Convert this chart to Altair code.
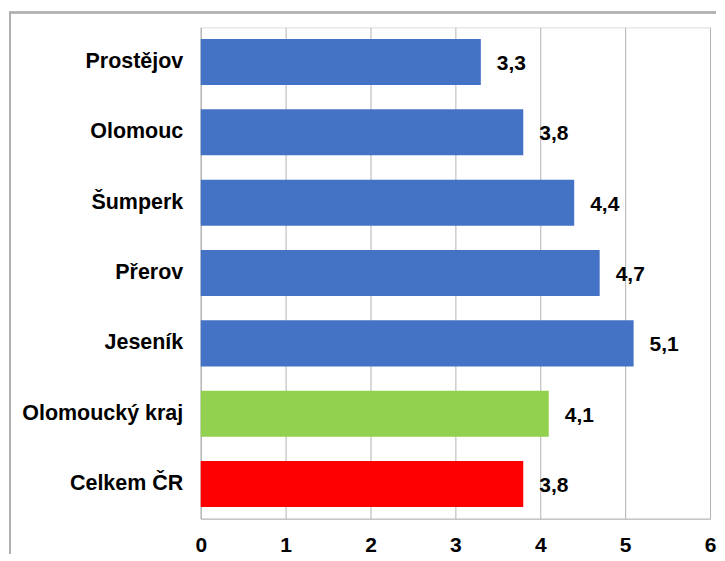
import altair as alt
import pandas as pd

regions = ["Prostějov", "Olomouc", "Šumperk", "Přerov", "Jeseník", "Olomoucký kraj", "Celkem ČR"]
values = [3.3, 3.8, 4.4, 4.7, 5.1, 4.1, 3.8]
colors = ["#4472C4", "#4472C4", "#4472C4", "#4472C4", "#4472C4", "#92D050", "#FF0000"]
x_ticks = [0, 1, 2, 3, 4, 5, 6]

df = pd.DataFrame({"region": regions, "value": values, "color": colors})

FONT = "Liberation Sans"
GRID = "#b3b3b3"

y_enc = alt.Y("region:N", sort=regions,
              scale=alt.Scale(paddingInner=0.345, paddingOuter=0.165),
              axis=alt.Axis(title=None, labelFont=FONT, labelFontSize=21.5, labelFontWeight="bold",
                            labelColor="black", labelPadding=18, ticks=False,
                            domainColor=GRID, labelLimit=300))
x_enc = alt.X("value:Q", scale=alt.Scale(domain=[0, 6], nice=False),
              axis=alt.Axis(title=None, values=x_ticks, labelFont=FONT, labelFontSize=21,
                            labelFontWeight="bold", labelColor="black", labelPadding=16,
                            labelFlush=False, ticks=False, grid=True, gridColor=GRID,
                            domainColor=GRID, format="d"))

bars = alt.Chart(df).mark_bar().encode(
    y=y_enc, x=x_enc,
    color=alt.Color("color:N", scale=None),
)

labels = alt.Chart(df).transform_calculate(
    label="replace(format(datum.value, '.1f'), '.', ',')"
).mark_text(align="left", baseline="middle", dx=16, dy=2, font=FONT, fontSize=21,
            fontWeight="bold", color="black").encode(
    y=alt.Y("region:N", sort=regions), x="value:Q", text="label:N"
)

# decorative outer frame (top and left edges)
frame_top = alt.Chart(df).mark_rule(color="#b0b0b0", strokeWidth=1.5).encode(
    x=alt.value(-192), x2=alt.value(516), y=alt.value(-15)
)
frame_left = alt.Chart(df).mark_rule(color="#b0b0b0", strokeWidth=1.5).encode(
    x=alt.value(-191), y=alt.value(-15), y2=alt.value(527)
)

chart = alt.layer(bars, labels, frame_top, frame_left).properties(
    width=510, height=492,
    padding={"top": 3, "left": 0, "right": 0, "bottom": 0},
).configure_view(stroke=None).configure(background="white")

chart.save("out.html", embed_options={"renderer": "svg", "actions": False})
